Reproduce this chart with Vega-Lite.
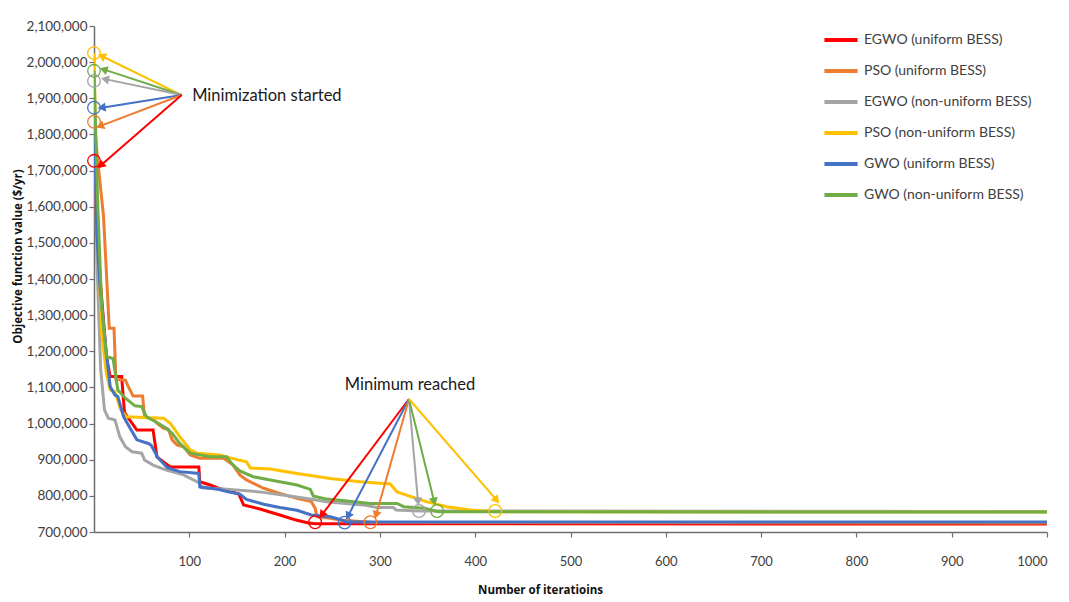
{
  "$schema": "https://vega.github.io/schema/vega-lite/v6.json",
  "width": 953,
  "height": 506,
  "autosize": {"type": "none"},
  "padding": {"left": 94, "top": 26, "right": 22, "bottom": 70},
  "background": "white",
  "config": {"view": {"stroke": null}, "font": "Lato", "axis": {"labelOverlap": false}},
  "datasets": {
    "curves": [
      {"series": "EGWO (uniform BESS)", "iter": 0, "value": 1727000},
      {"series": "EGWO (uniform BESS)", "iter": 4, "value": 1480000},
      {"series": "EGWO (uniform BESS)", "iter": 13, "value": 1185000},
      {"series": "EGWO (uniform BESS)", "iter": 17, "value": 1130000},
      {"series": "EGWO (uniform BESS)", "iter": 29, "value": 1130000},
      {"series": "EGWO (uniform BESS)", "iter": 32, "value": 1030000},
      {"series": "EGWO (uniform BESS)", "iter": 45, "value": 982000},
      {"series": "EGWO (uniform BESS)", "iter": 62, "value": 982000},
      {"series": "EGWO (uniform BESS)", "iter": 66, "value": 908000},
      {"series": "EGWO (uniform BESS)", "iter": 80, "value": 880000},
      {"series": "EGWO (uniform BESS)", "iter": 110, "value": 880000},
      {"series": "EGWO (uniform BESS)", "iter": 111, "value": 839000},
      {"series": "EGWO (uniform BESS)", "iter": 122, "value": 830000},
      {"series": "EGWO (uniform BESS)", "iter": 130, "value": 822000},
      {"series": "EGWO (uniform BESS)", "iter": 146, "value": 810000},
      {"series": "EGWO (uniform BESS)", "iter": 152, "value": 805000},
      {"series": "EGWO (uniform BESS)", "iter": 157, "value": 775000},
      {"series": "EGWO (uniform BESS)", "iter": 175, "value": 763000},
      {"series": "EGWO (uniform BESS)", "iter": 195, "value": 747000},
      {"series": "EGWO (uniform BESS)", "iter": 212, "value": 733000},
      {"series": "EGWO (uniform BESS)", "iter": 225, "value": 725000},
      {"series": "EGWO (uniform BESS)", "iter": 232, "value": 723000},
      {"series": "EGWO (uniform BESS)", "iter": 1000, "value": 722000},

      {"series": "PSO (uniform BESS)", "iter": 0, "value": 1835000},
      {"series": "PSO (uniform BESS)", "iter": 5, "value": 1700000},
      {"series": "PSO (uniform BESS)", "iter": 10, "value": 1573000},
      {"series": "PSO (uniform BESS)", "iter": 16, "value": 1264000},
      {"series": "PSO (uniform BESS)", "iter": 21, "value": 1264000},
      {"series": "PSO (uniform BESS)", "iter": 23, "value": 1122000},
      {"series": "PSO (uniform BESS)", "iter": 33, "value": 1120000},
      {"series": "PSO (uniform BESS)", "iter": 36, "value": 1102000},
      {"series": "PSO (uniform BESS)", "iter": 41, "value": 1076000},
      {"series": "PSO (uniform BESS)", "iter": 51, "value": 1076000},
      {"series": "PSO (uniform BESS)", "iter": 53, "value": 1019000},
      {"series": "PSO (uniform BESS)", "iter": 63, "value": 1010000},
      {"series": "PSO (uniform BESS)", "iter": 66, "value": 1001000},
      {"series": "PSO (uniform BESS)", "iter": 73, "value": 987000},
      {"series": "PSO (uniform BESS)", "iter": 78, "value": 984000},
      {"series": "PSO (uniform BESS)", "iter": 82, "value": 955000},
      {"series": "PSO (uniform BESS)", "iter": 87, "value": 941000},
      {"series": "PSO (uniform BESS)", "iter": 94, "value": 936000},
      {"series": "PSO (uniform BESS)", "iter": 101, "value": 913000},
      {"series": "PSO (uniform BESS)", "iter": 111, "value": 904000},
      {"series": "PSO (uniform BESS)", "iter": 136, "value": 904000},
      {"series": "PSO (uniform BESS)", "iter": 146, "value": 885000},
      {"series": "PSO (uniform BESS)", "iter": 153, "value": 858000},
      {"series": "PSO (uniform BESS)", "iter": 160, "value": 844000},
      {"series": "PSO (uniform BESS)", "iter": 178, "value": 821000},
      {"series": "PSO (uniform BESS)", "iter": 195, "value": 807000},
      {"series": "PSO (uniform BESS)", "iter": 213, "value": 793000},
      {"series": "PSO (uniform BESS)", "iter": 228, "value": 784000},
      {"series": "PSO (uniform BESS)", "iter": 232, "value": 766000},
      {"series": "PSO (uniform BESS)", "iter": 234, "value": 742000},
      {"series": "PSO (uniform BESS)", "iter": 248, "value": 738000},
      {"series": "PSO (uniform BESS)", "iter": 258, "value": 733000},
      {"series": "PSO (uniform BESS)", "iter": 290, "value": 727000},
      {"series": "PSO (uniform BESS)", "iter": 1000, "value": 725000},

      {"series": "EGWO (non-uniform BESS)", "iter": 0, "value": 1948000},
      {"series": "EGWO (non-uniform BESS)", "iter": 3, "value": 1453000},
      {"series": "EGWO (non-uniform BESS)", "iter": 7, "value": 1150000},
      {"series": "EGWO (non-uniform BESS)", "iter": 11, "value": 1038000},
      {"series": "EGWO (non-uniform BESS)", "iter": 15, "value": 1015000},
      {"series": "EGWO (non-uniform BESS)", "iter": 22, "value": 1010000},
      {"series": "EGWO (non-uniform BESS)", "iter": 27, "value": 964000},
      {"series": "EGWO (non-uniform BESS)", "iter": 33, "value": 936000},
      {"series": "EGWO (non-uniform BESS)", "iter": 40, "value": 922000},
      {"series": "EGWO (non-uniform BESS)", "iter": 50, "value": 918000},
      {"series": "EGWO (non-uniform BESS)", "iter": 53, "value": 899000},
      {"series": "EGWO (non-uniform BESS)", "iter": 62, "value": 885000},
      {"series": "EGWO (non-uniform BESS)", "iter": 76, "value": 871000},
      {"series": "EGWO (non-uniform BESS)", "iter": 94, "value": 858000},
      {"series": "EGWO (non-uniform BESS)", "iter": 111, "value": 835000},
      {"series": "EGWO (non-uniform BESS)", "iter": 113, "value": 822000},
      {"series": "EGWO (non-uniform BESS)", "iter": 132, "value": 820000},
      {"series": "EGWO (non-uniform BESS)", "iter": 174, "value": 811000},
      {"series": "EGWO (non-uniform BESS)", "iter": 209, "value": 798000},
      {"series": "EGWO (non-uniform BESS)", "iter": 230, "value": 790000},
      {"series": "EGWO (non-uniform BESS)", "iter": 244, "value": 784000},
      {"series": "EGWO (non-uniform BESS)", "iter": 282, "value": 775000},
      {"series": "EGWO (non-uniform BESS)", "iter": 297, "value": 768000},
      {"series": "EGWO (non-uniform BESS)", "iter": 314, "value": 768000},
      {"series": "EGWO (non-uniform BESS)", "iter": 317, "value": 761000},
      {"series": "EGWO (non-uniform BESS)", "iter": 341, "value": 758000},
      {"series": "EGWO (non-uniform BESS)", "iter": 1000, "value": 757000},

      {"series": "PSO (non-uniform BESS)", "iter": 0, "value": 2025000},
      {"series": "PSO (non-uniform BESS)", "iter": 3, "value": 1600000},
      {"series": "PSO (non-uniform BESS)", "iter": 8, "value": 1250000},
      {"series": "PSO (non-uniform BESS)", "iter": 13, "value": 1139000},
      {"series": "PSO (non-uniform BESS)", "iter": 17, "value": 1093000},
      {"series": "PSO (non-uniform BESS)", "iter": 22, "value": 1088000},
      {"series": "PSO (non-uniform BESS)", "iter": 28, "value": 1038000},
      {"series": "PSO (non-uniform BESS)", "iter": 34, "value": 1019000},
      {"series": "PSO (non-uniform BESS)", "iter": 73, "value": 1015000},
      {"series": "PSO (non-uniform BESS)", "iter": 80, "value": 1001000},
      {"series": "PSO (non-uniform BESS)", "iter": 90, "value": 964000},
      {"series": "PSO (non-uniform BESS)", "iter": 101, "value": 927000},
      {"series": "PSO (non-uniform BESS)", "iter": 108, "value": 918000},
      {"series": "PSO (non-uniform BESS)", "iter": 132, "value": 913000},
      {"series": "PSO (non-uniform BESS)", "iter": 139, "value": 908000},
      {"series": "PSO (non-uniform BESS)", "iter": 152, "value": 899000},
      {"series": "PSO (non-uniform BESS)", "iter": 160, "value": 894000},
      {"series": "PSO (non-uniform BESS)", "iter": 164, "value": 877000},
      {"series": "PSO (non-uniform BESS)", "iter": 185, "value": 874000},
      {"series": "PSO (non-uniform BESS)", "iter": 213, "value": 862000},
      {"series": "PSO (non-uniform BESS)", "iter": 248, "value": 848000},
      {"series": "PSO (non-uniform BESS)", "iter": 279, "value": 839000},
      {"series": "PSO (non-uniform BESS)", "iter": 311, "value": 833000},
      {"series": "PSO (non-uniform BESS)", "iter": 318, "value": 811000},
      {"series": "PSO (non-uniform BESS)", "iter": 335, "value": 796000},
      {"series": "PSO (non-uniform BESS)", "iter": 349, "value": 784000},
      {"series": "PSO (non-uniform BESS)", "iter": 370, "value": 770000},
      {"series": "PSO (non-uniform BESS)", "iter": 395, "value": 761000},
      {"series": "PSO (non-uniform BESS)", "iter": 421, "value": 756000},
      {"series": "PSO (non-uniform BESS)", "iter": 1000, "value": 755000},

      {"series": "GWO (uniform BESS)", "iter": 0, "value": 1874000},
      {"series": "GWO (uniform BESS)", "iter": 3, "value": 1527000},
      {"series": "GWO (uniform BESS)", "iter": 6, "value": 1389000},
      {"series": "GWO (uniform BESS)", "iter": 13, "value": 1194000},
      {"series": "GWO (uniform BESS)", "iter": 17, "value": 1102000},
      {"series": "GWO (uniform BESS)", "iter": 22, "value": 1079000},
      {"series": "GWO (uniform BESS)", "iter": 25, "value": 1075000},
      {"series": "GWO (uniform BESS)", "iter": 31, "value": 1019000},
      {"series": "GWO (uniform BESS)", "iter": 39, "value": 982000},
      {"series": "GWO (uniform BESS)", "iter": 45, "value": 955000},
      {"series": "GWO (uniform BESS)", "iter": 57, "value": 945000},
      {"series": "GWO (uniform BESS)", "iter": 60, "value": 940000},
      {"series": "GWO (uniform BESS)", "iter": 67, "value": 906000},
      {"series": "GWO (uniform BESS)", "iter": 77, "value": 878000},
      {"series": "GWO (uniform BESS)", "iter": 90, "value": 867000},
      {"series": "GWO (uniform BESS)", "iter": 110, "value": 862000},
      {"series": "GWO (uniform BESS)", "iter": 111, "value": 825000},
      {"series": "GWO (uniform BESS)", "iter": 130, "value": 818000},
      {"series": "GWO (uniform BESS)", "iter": 143, "value": 810000},
      {"series": "GWO (uniform BESS)", "iter": 153, "value": 805000},
      {"series": "GWO (uniform BESS)", "iter": 160, "value": 790000},
      {"series": "GWO (uniform BESS)", "iter": 178, "value": 777000},
      {"series": "GWO (uniform BESS)", "iter": 195, "value": 768000},
      {"series": "GWO (uniform BESS)", "iter": 213, "value": 760000},
      {"series": "GWO (uniform BESS)", "iter": 228, "value": 747000},
      {"series": "GWO (uniform BESS)", "iter": 248, "value": 742000},
      {"series": "GWO (uniform BESS)", "iter": 258, "value": 735000},
      {"series": "GWO (uniform BESS)", "iter": 265, "value": 728000},
      {"series": "GWO (uniform BESS)", "iter": 1000, "value": 728000},

      {"series": "GWO (non-uniform BESS)", "iter": 0, "value": 1976000},
      {"series": "GWO (non-uniform BESS)", "iter": 4, "value": 1600000},
      {"series": "GWO (non-uniform BESS)", "iter": 8, "value": 1330000},
      {"series": "GWO (non-uniform BESS)", "iter": 13, "value": 1185000},
      {"series": "GWO (non-uniform BESS)", "iter": 20, "value": 1180000},
      {"series": "GWO (non-uniform BESS)", "iter": 25, "value": 1093000},
      {"series": "GWO (non-uniform BESS)", "iter": 33, "value": 1070000},
      {"series": "GWO (non-uniform BESS)", "iter": 43, "value": 1049000},
      {"series": "GWO (non-uniform BESS)", "iter": 50, "value": 1047000},
      {"series": "GWO (non-uniform BESS)", "iter": 55, "value": 1019000},
      {"series": "GWO (non-uniform BESS)", "iter": 66, "value": 1003000},
      {"series": "GWO (non-uniform BESS)", "iter": 76, "value": 987000},
      {"series": "GWO (non-uniform BESS)", "iter": 82, "value": 973000},
      {"series": "GWO (non-uniform BESS)", "iter": 90, "value": 945000},
      {"series": "GWO (non-uniform BESS)", "iter": 101, "value": 918000},
      {"series": "GWO (non-uniform BESS)", "iter": 122, "value": 908000},
      {"series": "GWO (non-uniform BESS)", "iter": 139, "value": 908000},
      {"series": "GWO (non-uniform BESS)", "iter": 146, "value": 885000},
      {"series": "GWO (non-uniform BESS)", "iter": 153, "value": 869000},
      {"series": "GWO (non-uniform BESS)", "iter": 167, "value": 853000},
      {"series": "GWO (non-uniform BESS)", "iter": 185, "value": 844000},
      {"series": "GWO (non-uniform BESS)", "iter": 213, "value": 830000},
      {"series": "GWO (non-uniform BESS)", "iter": 227, "value": 818000},
      {"series": "GWO (non-uniform BESS)", "iter": 230, "value": 800000},
      {"series": "GWO (non-uniform BESS)", "iter": 244, "value": 791000},
      {"series": "GWO (non-uniform BESS)", "iter": 258, "value": 788000},
      {"series": "GWO (non-uniform BESS)", "iter": 290, "value": 779000},
      {"series": "GWO (non-uniform BESS)", "iter": 318, "value": 779000},
      {"series": "GWO (non-uniform BESS)", "iter": 325, "value": 770000},
      {"series": "GWO (non-uniform BESS)", "iter": 347, "value": 766000},
      {"series": "GWO (non-uniform BESS)", "iter": 361, "value": 756000},
      {"series": "GWO (non-uniform BESS)", "iter": 1000, "value": 755000}
    ],
    "circles": [
      {"series": "PSO (non-uniform BESS)", "iter": 0, "value": 2025000},
      {"series": "GWO (non-uniform BESS)", "iter": 0, "value": 1976000},
      {"series": "EGWO (non-uniform BESS)", "iter": 0, "value": 1948000},
      {"series": "GWO (uniform BESS)", "iter": 0, "value": 1874000},
      {"series": "PSO (uniform BESS)", "iter": 0, "value": 1835000},
      {"series": "EGWO (uniform BESS)", "iter": 0, "value": 1727000},
      {"series": "EGWO (uniform BESS)", "iter": 232, "value": 727000},
      {"series": "GWO (uniform BESS)", "iter": 263, "value": 726000},
      {"series": "PSO (uniform BESS)", "iter": 290, "value": 727000},
      {"series": "EGWO (non-uniform BESS)", "iter": 341, "value": 758000},
      {"series": "GWO (non-uniform BESS)", "iter": 360, "value": 758000},
      {"series": "PSO (non-uniform BESS)", "iter": 421, "value": 758000}
    ],
    "arrows": [
      {"series": "PSO (non-uniform BESS)", "sx": 92, "sy": 1909000, "tx": 8, "ty": 2017000},
      {"series": "GWO (non-uniform BESS)", "sx": 92, "sy": 1909000, "tx": 10, "ty": 1980000},
      {"series": "EGWO (non-uniform BESS)", "sx": 92, "sy": 1909000, "tx": 11.5, "ty": 1953000},
      {"series": "GWO (uniform BESS)", "sx": 92, "sy": 1909000, "tx": 8, "ty": 1874000},
      {"series": "PSO (uniform BESS)", "sx": 92, "sy": 1909000, "tx": 6.3, "ty": 1823000},
      {"series": "EGWO (uniform BESS)", "sx": 92, "sy": 1909000, "tx": 7, "ty": 1714000},
      {"series": "EGWO (uniform BESS)", "sx": 330.5, "sy": 1068000, "tx": 239, "ty": 747000},
      {"series": "GWO (uniform BESS)", "sx": 330.5, "sy": 1068000, "tx": 266.5, "ty": 744000},
      {"series": "PSO (uniform BESS)", "sx": 330.5, "sy": 1068000, "tx": 296, "ty": 747000},
      {"series": "EGWO (non-uniform BESS)", "sx": 330.5, "sy": 1068000, "tx": 340, "ty": 784000},
      {"series": "GWO (non-uniform BESS)", "sx": 330.5, "sy": 1068000, "tx": 357, "ty": 784000},
      {"series": "PSO (non-uniform BESS)", "sx": 330.5, "sy": 1068000, "tx": 422.5, "ty": 788000}
    ],
    "notes": [
      {"label": "Minimization started", "iter": 103, "value": 1906000, "pos": "left"},
      {"label": "Minimum reached", "iter": 331.6, "value": 1107000, "pos": "center"}
    ]
  },
  "layer": [
    {
      "data": {"name": "curves"},
      "mark": {"type": "line", "strokeWidth": 3, "clip": true},
      "encoding": {
        "x": {
          "field": "iter", "type": "quantitative",
          "scale": {"domain": [0, 1000], "nice": false, "zero": false},
          "axis": {
            "title": "Number of iteratioins",
            "values": [100, 200, 300, 400, 500, 600, 700, 800, 900, 1000],
            "tickCount": 20, "format": "d", "labelOverlap": false,
            "grid": false, "tickSize": 5, "labelPadding": 18,
            "labelFont": "Lato", "labelFontSize": 13, "labelColor": "#404040",
            "domainColor": "#6e6e6e", "domainWidth": 1.5, "tickColor": "#6e6e6e", "tickWidth": 1.2,
            "titleFont": "Open Sans", "titleFontWeight": "bold", "titleFontSize": 11.5, "titleColor": "#111111",
            "titleX": 446, "titleY": 58, "titleBaseline": "middle"
          }
        },
        "y": {
          "field": "value", "type": "quantitative",
          "scale": {"domain": [700000, 2100000], "nice": false, "zero": false},
          "axis": {
            "title": "Objective function value ($/yr)",
            "values": [700000, 800000, 900000, 1000000, 1100000, 1200000, 1300000, 1400000, 1500000, 1600000, 1700000, 1800000, 1900000, 2000000, 2100000],
            "tickCount": 20, "format": ",.0f", "labelOverlap": false, "grid": false, "tickSize": 5,
            "labelFont": "Lato", "labelFontSize": 13.5, "labelColor": "#404040",
            "domainColor": "#6e6e6e", "domainWidth": 1.5, "tickColor": "#6e6e6e", "tickWidth": 1.2,
            "titleFont": "Open Sans", "titleFontWeight": "bold", "titleFontSize": 11.5, "titleColor": "#111111",
            "titleX": -76, "titleY": 230, "titleBaseline": "middle"
          }
        },
        "color": {
          "field": "series", "type": "nominal",
          "scale": {
            "domain": ["EGWO (uniform BESS)", "PSO (uniform BESS)", "EGWO (non-uniform BESS)", "PSO (non-uniform BESS)", "GWO (uniform BESS)", "GWO (non-uniform BESS)"],
            "range": ["#ff0000", "#ed7d31", "#a5a5a5", "#ffc000", "#4472c4", "#70ad47"]
          },
          "legend": {
            "title": null, "orient": "none", "legendX": 728, "legendY": -5, "padding": 0,
            "symbolType": "stroke", "symbolStrokeWidth": 4, "symbolSize": 1100,
            "labelFont": "Lato", "labelFontSize": 14, "labelColor": "#404040", "labelOffset": 4,
            "labelLimit": 300, "rowPadding": 4
          }
        },
        "order": {"field": "iter", "type": "quantitative"}
      }
    },
    {
      "data": {"name": "arrows"},
      "mark": {"type": "rule", "strokeWidth": 2},
      "encoding": {
        "x": {"field": "sx", "type": "quantitative"},
        "y": {"field": "sy", "type": "quantitative"},
        "x2": {"field": "tx"},
        "y2": {"field": "ty"},
        "stroke": {
          "field": "series", "type": "nominal", "legend": null,
          "scale": {
            "domain": ["EGWO (uniform BESS)", "PSO (uniform BESS)", "EGWO (non-uniform BESS)", "PSO (non-uniform BESS)", "GWO (uniform BESS)", "GWO (non-uniform BESS)"],
            "range": ["#ff0000", "#ed7d31", "#a5a5a5", "#ffc000", "#4472c4", "#70ad47"]
          }
        }
      }
    },
    {
      "data": {"name": "arrows"},
      "transform": [
        {"calculate": "atan2((datum.tx - datum.sx) * 0.953, (datum.ty - datum.sy) * 506 / 1400000) * 180 / PI", "as": "ang"}
      ],
      "mark": {"type": "point", "shape": "triangle-up", "filled": true, "size": 85, "opacity": 1, "strokeWidth": 0},
      "encoding": {
        "x": {"field": "tx", "type": "quantitative"},
        "y": {"field": "ty", "type": "quantitative"},
        "angle": {"field": "ang", "type": "quantitative", "scale": null},
        "fill": {
          "field": "series", "type": "nominal", "legend": null,
          "scale": {
            "domain": ["EGWO (uniform BESS)", "PSO (uniform BESS)", "EGWO (non-uniform BESS)", "PSO (non-uniform BESS)", "GWO (uniform BESS)", "GWO (non-uniform BESS)"],
            "range": ["#ff0000", "#ed7d31", "#a5a5a5", "#ffc000", "#4472c4", "#70ad47"]
          }
        }
      }
    },
    {
      "data": {"name": "circles"},
      "mark": {"type": "point", "shape": "circle", "filled": false, "size": 160, "strokeWidth": 1.3, "opacity": 1},
      "encoding": {
        "x": {"field": "iter", "type": "quantitative"},
        "y": {"field": "value", "type": "quantitative"},
        "stroke": {
          "field": "series", "type": "nominal", "legend": null,
          "scale": {
            "domain": ["EGWO (uniform BESS)", "PSO (uniform BESS)", "EGWO (non-uniform BESS)", "PSO (non-uniform BESS)", "GWO (uniform BESS)", "GWO (non-uniform BESS)"],
            "range": ["#ff0000", "#ed7d31", "#a5a5a5", "#ffc000", "#4472c4", "#70ad47"]
          }
        }
      }
    },
    {
      "data": {"name": "notes"},
      "transform": [{"filter": "datum.pos == 'left'"}],
      "mark": {"type": "text", "align": "left", "baseline": "middle", "font": "Lato", "fontSize": 16.5, "color": "#1a1a1a"},
      "encoding": {
        "x": {"field": "iter", "type": "quantitative"},
        "y": {"field": "value", "type": "quantitative"},
        "text": {"field": "label"}
      }
    },
    {
      "data": {"name": "notes"},
      "transform": [{"filter": "datum.pos == 'center'"}],
      "mark": {"type": "text", "align": "center", "baseline": "middle", "font": "Lato", "fontSize": 16.5, "color": "#1a1a1a"},
      "encoding": {
        "x": {"field": "iter", "type": "quantitative"},
        "y": {"field": "value", "type": "quantitative"},
        "text": {"field": "label"}
      }
    }
  ]
}
